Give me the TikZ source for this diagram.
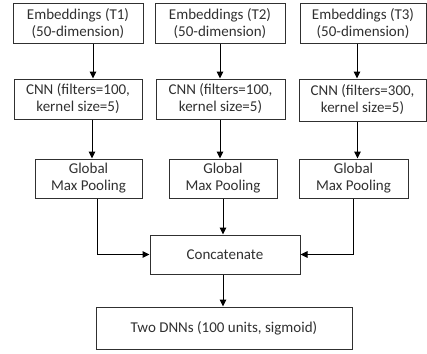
\documentclass[tikz,border=0pt]{standalone}
\usepackage{fontspec}
\setmainfont{Carlito}
\usetikzlibrary{arrows.meta}
\definecolor{txt}{HTML}{303030}
\definecolor{ln}{HTML}{303030}
\tikzset{
  box/.style={draw=ln, line width=1pt, inner sep=0pt, align=center, text=txt,
    font=\fontsize{15}{17}\selectfont},
  arr/.style={draw=black, line width=1pt, -{Triangle[width=6.5pt,length=7pt]}}
}
\newcommand{\bx}[6]{\node[box, minimum width={#4-#2}, minimum height={#5-#3}] (#1) at ({(#2+#4)/2},{(#3+#5)/2}) {#6};}
\begin{document}
\begin{tikzpicture}[x=1pt,y=-1pt]
\useasboundingbox (0,0) rectangle (427,353);
\bx{e1}{13}{4}{143}{43}{Embeddings (T1)\\(50-dimension)}
\bx{e2}{155}{4}{285}{43}{Embeddings (T2)\\(50-dimension)}
\bx{e3}{300}{4}{426}{43}{Embeddings (T3)\\(50-dimension)}
\bx{c1}{14}{79}{142}{119}{CNN (filters=100,\\kernel size=5)}
\bx{c2}{156}{79}{285}{119}{CNN (filters=100,\\kernel size=5)}
\bx{c3}{299}{79}{426}{121}{CNN (filters=300,\\kernel size=5)}
\bx{g1}{35}{159}{142}{198}{Global\\Max Pooling}
\bx{g2}{169}{159}{277}{198}{Global\\Max Pooling}
\bx{g3}{299}{159}{408}{198}{Global\\Max Pooling}
\bx{cc}{150}{235}{300}{274}{Concatenate}
\bx{dn}{96}{307}{352}{349}{Two DNNs (100 units, sigmoid)}
\draw[arr] ([xshift=15pt]e1.south) -- ([xshift=15pt]e1.south |- c1.north);
\draw[arr] (e2.south) -- (e2.south |- c2.north);
\draw[arr] ([xshift=-6pt]e3.south) -- ([xshift=-6pt]e3.south |- c3.north);
\draw[arr] ([xshift=14pt]c1.south) -- ([xshift=14pt]c1.south |- g1.north);
\draw[arr] ([xshift=-0.5pt]c2.south) -- ([xshift=-0.5pt]c2.south |- g2.north);
\draw[arr] ([xshift=-5pt]c3.south) -- ([xshift=-5pt]c3.south |- g3.north);
\draw[arr] ([xshift=8.5pt]g1.south) |- (cc.west);
\draw[arr] (g3.south) |- (cc.east);
\draw[arr] (g2.south) -- (g2.south |- cc.north);
\draw[arr] ([xshift=-2pt]cc.south) -- ([xshift=-2pt]cc.south |- dn.north);
\end{tikzpicture}
\end{document}
